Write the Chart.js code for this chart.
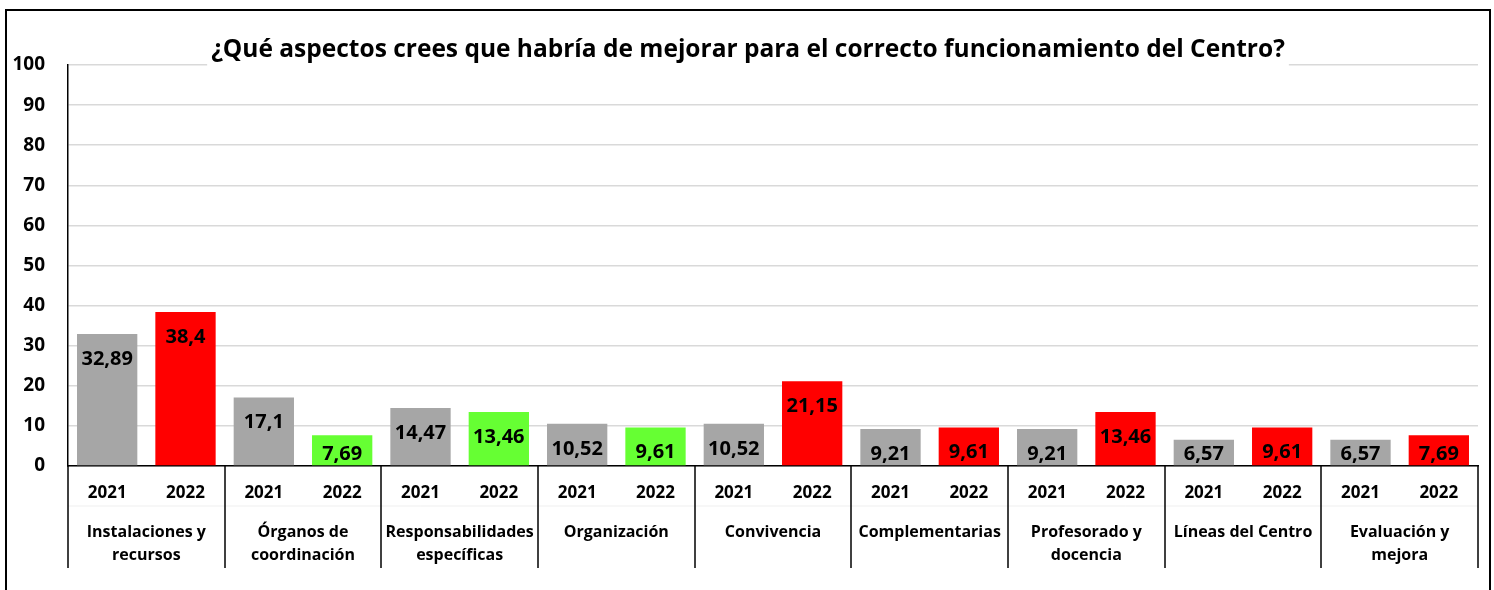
<!DOCTYPE html>
<html>
<head>
<meta charset="utf-8">
<script src="https://cdn.jsdelivr.net/npm/chart.js"></script>
<style>
html, body { margin: 0; padding: 0; background: #fff; overflow: hidden; }
#wrap { position: relative; width: 1494px; height: 590px; }
#frame { position: absolute; left: 5px; top: 9px; width: 1482px; height: 620px; border: 2px solid #000; pointer-events: none; }
</style>
</head>
<body>
<div id="wrap">
  <canvas id="chart"></canvas>
  <div id="frame"></div>
</div>
<script>
var chartTitle = '¿Qué aspectos crees que habría de mejorar para el correcto funcionamiento del Centro?';
var categories = [
  ['Instalaciones y', 'recursos'],
  ['Órganos de', 'coordinación'],
  ['Responsabilidades', 'específicas'],
  ['Organización'],
  ['Convivencia'],
  ['Complementarias'],
  ['Profesorado y', 'docencia'],
  ['Líneas del Centro'],
  ['Evaluación y', 'mejora']
];
var years = ['2021', '2022'];
var values2021 = [32.89, 17.1, 14.47, 10.52, 10.52, 9.21, 9.21, 6.57, 6.57];
var values2022 = [38.4, 7.69, 13.46, 9.61, 21.15, 9.61, 13.46, 9.61, 7.69];
var colors2022 = ['#ff0000', '#66ff33', '#66ff33', '#66ff33', '#ff0000', '#ff0000', '#ff0000', '#ff0000', '#ff0000'];
var yTicks = [0, 10, 20, 30, 40, 50, 60, 70, 80, 90, 100];

var font = 'Open Sans';

// flatten into one bar per year
var labels = [], values = [], colors = [];
categories.forEach(function (c, i) {
  labels.push(years[0]); values.push(values2021[i]); colors.push('#a6a6a6');
  labels.push(years[1]); values.push(values2022[i]); colors.push(colors2022[i]);
});

var extras = {
  id: 'extras',
  afterDatasetsDraw: function (chart) {
    var ctx = chart.ctx;
    var meta = chart.getDatasetMeta(0);
    var base = chart.scales.y.getPixelForValue(0);
    ctx.save();
    ctx.font = 'bold 20px ' + font;
    ctx.fillStyle = '#000';
    ctx.textAlign = 'center';
    ctx.textBaseline = 'middle';
    meta.data.forEach(function (bar, i) {
      var y = Math.min(bar.y + 25, base - 12);
      ctx.fillText(String(values[i]).replace('.', ','), bar.x, y);
    });
    ctx.restore();
  },
  afterDraw: function (chart) {
    var ctx = chart.ctx;
    var area = chart.chartArea;
    var meta = chart.getDatasetMeta(0);
    var n = categories.length;
    var step = (area.right - area.left) / n;
    ctx.save();
    // faint separator between year and category rows
    ctx.strokeStyle = '#efefef';
    ctx.lineWidth = 1;
    ctx.beginPath();
    ctx.moveTo(area.left, area.bottom + 40);
    ctx.lineTo(area.right, area.bottom + 40);
    ctx.stroke();
    // group dividers
    ctx.strokeStyle = '#000';
    ctx.lineWidth = 1.5;
    for (var i = 0; i <= n; i++) {
      var x = Math.round(area.left + i * step);
      ctx.beginPath();
      ctx.moveTo(x, area.bottom);
      ctx.lineTo(x, area.bottom + 102);
      ctx.stroke();
    }
    // group labels
    ctx.font = 'bold 16px ' + font;
    ctx.fillStyle = '#000';
    ctx.textAlign = 'center';
    ctx.textBaseline = 'middle';
    categories.forEach(function (lines, i) {
      var cx = (meta.data[2 * i].x + meta.data[2 * i + 1].x) / 2;
      lines.forEach(function (t, k) {
        ctx.fillText(t, cx, area.bottom + 66 + k * 23);
      });
    });
    // title over the top gridline
    ctx.font = 'bold 24.5px ' + font;
    var w = ctx.measureText(chartTitle).width;
    var tx = (area.left + area.right) / 2 - 25;
    ctx.fillStyle = '#fff';
    ctx.fillRect(tx - w / 2 - 4, 34, w + 8, 34);
    ctx.fillStyle = '#000';
    ctx.fillText(chartTitle, tx, 50);
    ctx.restore();
  }
};

new Chart(document.getElementById('chart').getContext('2d'), {
  type: 'bar',
  data: {
    labels: labels,
    datasets: [{
      data: values,
      backgroundColor: colors,
      borderWidth: 0,
      barPercentage: 0.77,
      categoryPercentage: 1
    }]
  },
  options: {
    responsive: true,
    maintainAspectRatio: false,
    animation: false,
    layout: { padding: { left: 0, right: 16, top: 65, bottom: 0 } },
    plugins: {
      legend: { display: false },
      title: { display: false },
      tooltip: { enabled: false }
    },
    scales: {
      x: {
        grid: { display: false, drawTicks: false },
        border: { color: '#000', width: 1.5 },
        ticks: { color: '#000', font: { family: font, size: 17, weight: 'bold' }, padding: 17, maxRotation: 0, autoSkip: false },
        afterFit: function (s) { s.height = 124; }
      },
      y: {
        min: 0,
        max: 100,
        afterBuildTicks: function (s) { s.ticks = yTicks.map(function (v) { return { value: v }; }); },
        grid: { color: '#d9d9d9', lineWidth: 1.5, drawTicks: false },
        border: { color: '#000', width: 1.5 },
        ticks: { color: '#000', font: { family: font, size: 19, weight: 'bold' }, padding: 23 },
        afterFit: function (s) { s.width = 68; }
      }
    }
  },
  plugins: [extras]
});
</script>
</body>
</html>
